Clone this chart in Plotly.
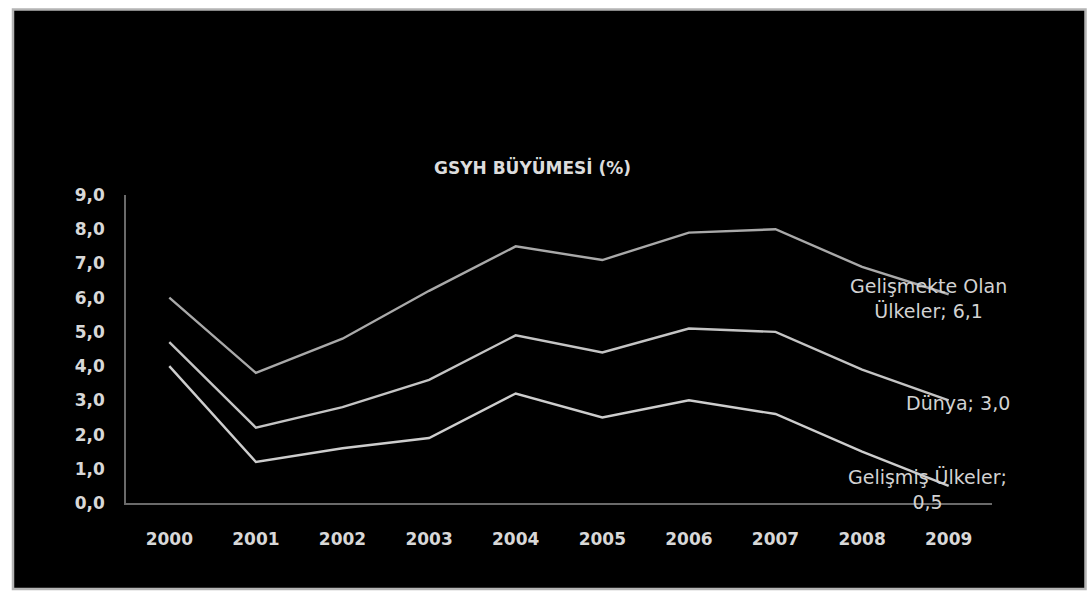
import plotly.graph_objects as go

years = ["2000", "2001", "2002", "2003", "2004", "2005", "2006", "2007", "2008", "2009"]
developing = [6.0, 3.8, 4.8, 6.2, 7.5, 7.1, 7.9, 8.0, 6.9, 6.1]
world = [4.7, 2.2, 2.8, 3.6, 4.9, 4.4, 5.1, 5.0, 3.9, 3.0]
developed = [4.0, 1.2, 1.6, 1.9, 3.2, 2.5, 3.0, 2.6, 1.5, 0.5]

series_names = ["Gelişmekte Olan Ülkeler", "Dünya", "Gelişmiş Ülkeler"]
series_colors = ["#a9a9a9", "#c4c4c4", "#cdcdcd"]
end_labels = ["Gelişmekte Olan<br>Ülkeler; 6,1", "Dünya; 3,0", "Gelişmiş Ülkeler;<br>0,5"]
title_text = "GSYH BÜYÜMESİ (%)"

W, H = 1088, 594
L, R, T, B = 126, 96, 195, 91
pw, ph = W - L - R, H - T - B


def px_x(px):
    return (px - L) / pw


def px_y(py):
    return (H - B - py) / ph


fig = go.Figure()
for name, vals, col in zip(series_names, [developing, world, developed], series_colors):
    fig.add_trace(go.Scatter(x=years, y=vals, mode="lines", name=name,
                             line=dict(color=col, width=2.4), showlegend=False))

last_idx = len(years) - 1
shifts = [(-20, -4), (9, -3), (-21, -4)]
for lab, vals, (dx, dy) in zip(end_labels, [developing, world, developed], shifts):
    fig.add_annotation(x=last_idx, y=vals[-1], xref="x", yref="y", text=lab,
                       showarrow=False, xshift=dx, yshift=dy, align="center",
                       xanchor="center", yanchor="middle",
                       font=dict(family="DejaVu Sans", size=19, color="#d2d2d2"))

fig.add_annotation(x=px_x(532), y=px_y(167), xref="paper", yref="paper", text="<b>" + title_text + "</b>",
                   showarrow=False, xanchor="center", yanchor="middle",
                   font=dict(family="DejaVu Sans", size=17, color="#dcdcdc"))

fig.add_shape(type="rect", xref="paper", yref="paper", layer="below",
              x0=px_x(13), x1=px_x(1085.5), y0=px_y(589), y1=px_y(9.5),
              fillcolor="black", line=dict(color="#b4b4b4", width=2.5))

fig.update_layout(
    width=W, height=H,
    margin=dict(l=L, r=R, t=T, b=B, pad=0),
    paper_bgcolor="white",
    plot_bgcolor="black",
    separators=",.",
    showlegend=False,
    xaxis=dict(type="category", range=[-0.5, 9.5], showgrid=False, zeroline=False,
               showline=True, linecolor="#6a6a6a", linewidth=1.5, ticks="",
               ticklabelstandoff=20,
               tickfont=dict(family="DejaVu Sans", size=17, color="#d8d8d8", weight="bold")),
    yaxis=dict(range=[0, 9], dtick=1, tickformat=".1f", showgrid=False, zeroline=False,
               showline=True, linecolor="#6a6a6a", linewidth=1.5, ticks="",
               ticklabelstandoff=16,
               tickfont=dict(family="DejaVu Sans", size=17, color="#d8d8d8", weight="bold")),
)

fig.write_html("out.html")
